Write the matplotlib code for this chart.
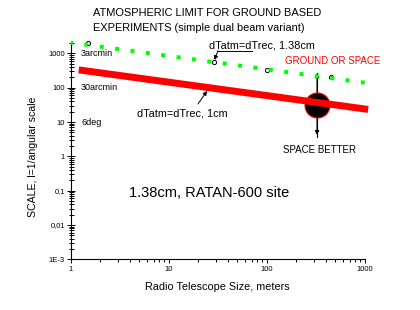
import matplotlib
matplotlib.use('Agg')
import matplotlib.pyplot as plt
from matplotlib.lines import Line2D
from matplotlib.ticker import FixedLocator, LogLocator, NullFormatter, FixedFormatter

plt.rcParams['font.family'] = ['Liberation Sans', 'DejaVu Sans']

# ---- data ----
size_red = [1.3, 1000]          # dTatm=dTrec, 1cm
scale_red = [320, 24]
size_green = [1, 1000]          # dTatm=dTrec, 1.38cm
scale_green = [2050, 140]
size_obs = [1.48, 28.7, 101, 458]
scale_obs = [2036, 547, 320, 200]
size_ratan = [326]
scale_ratan = [31.8]
ytick_vals = [1e-3, 1e-2, 1e-1, 1, 10, 100, 1000]
ytick_labels = ['1E-3', '0,01', '0,1', '1', '10', '100', '1000']
xtick_vals = [1, 10, 100, 1000]
xtick_labels = ['1', '10', '100', '1000']
angle_vals = [1000, 100, 10]
angle_labels = ['3arcmin', '30arcmin', '6deg']
arrow_top = 267
arrow_bottom = 4.17
line_bottom = 3.65

W, H = 420, 310
def px(x, y):
    return (x / W, 1 - y / H)

fig = plt.figure(figsize=(4.2, 3.1), dpi=100)
ax = fig.add_axes([71 / W, 1 - 259.3 / H, 293.7 / W, 217 / H])
ax.set_xscale('log')
ax.set_yscale('log')
ax.set_xlim(1, 1000)
ax.set_ylim(1e-3, 2100)

for s in ['top', 'right']:
    ax.spines[s].set_visible(False)
for s in ['left', 'bottom']:
    ax.spines[s].set_linewidth(0.8)

ax.yaxis.set_major_locator(FixedLocator(ytick_vals))
ax.yaxis.set_major_formatter(FixedFormatter(ytick_labels))
ax.yaxis.set_minor_locator(LogLocator(base=10, subs=range(2, 10), numticks=20))
ax.yaxis.set_minor_formatter(NullFormatter())
ax.xaxis.set_major_locator(FixedLocator(xtick_vals))
ax.xaxis.set_major_formatter(FixedFormatter(xtick_labels))
ax.xaxis.set_minor_locator(LogLocator(base=10, subs=range(2, 10), numticks=20))
ax.xaxis.set_minor_formatter(NullFormatter())

ax.tick_params(axis='y', which='major', direction='inout', length=5.6, width=0.7,
               labelsize=5.5, pad=1.5)
ax.tick_params(axis='y', which='minor', direction='inout', length=3.6, width=0.7)
ax.tick_params(axis='x', which='major', direction='out', length=3, width=0.7,
               labelsize=5.5, pad=2)
ax.tick_params(axis='x', which='minor', direction='out', length=2.2, width=0.7)

# RATAN-600 marker and vertical arrow
ax.plot([size_ratan[0], size_ratan[0]], [arrow_top, line_bottom], color='black', lw=0.8, zorder=2)
ax.annotate('', xy=(size_ratan[0], arrow_top), xytext=(size_ratan[0], scale_ratan[0]),
            arrowprops=dict(arrowstyle='-|>', color='black', lw=0.8, mutation_scale=6,
                            shrinkA=0, shrinkB=0), zorder=2)
ax.annotate('', xy=(size_ratan[0], arrow_bottom), xytext=(size_ratan[0], scale_ratan[0]),
            arrowprops=dict(arrowstyle='-|>', color='black', lw=0.8, mutation_scale=6,
                            shrinkA=0, shrinkB=0), zorder=2)
ax.plot(size_ratan, scale_ratan, 'o', ms=18, mfc='black', mec='red', mew=0.8,
        zorder=3, clip_on=False)

# red line
ax.plot(size_red, scale_red, color='#ff0000', lw=5, solid_capstyle='projecting',
        zorder=4, clip_on=False)

# hollow markers
ax.plot(size_obs, scale_obs, 'o', ms=3, mfc='white', mec='black', mew=0.7,
        zorder=4, clip_on=False)

# green dotted line
ax.plot(size_green, scale_green, color='#00ff00', lw=2.9, linestyle=(0.5, (1, 2.85)),
        dash_capstyle='butt', zorder=5, clip_on=False)

# angular labels
for v, lab in zip(angle_vals, angle_labels):
    ax.annotate(lab, xy=(1, v), xytext=(7.2, 0), textcoords='offset points',
                fontsize=6.5, va='center', ha='left')

# texts
fig.text(*px(93, 13.5), 'ATMOSPHERIC LIMIT FOR GROUND BASED', fontsize=7.9,
         ha='left', va='center')
fig.text(*px(93, 28), 'EXPERIMENTS (simple dual beam variant)', fontsize=7.9,
         ha='left', va='center')
fig.text(*px(209, 46), 'dTatm=dTrec, 1.38cm', fontsize=7.8, ha='left', va='center')
fig.text(*px(285, 61), 'GROUND OR SPACE', fontsize=7, color='#ff0000', ha='left', va='center')
fig.text(*px(136.7, 113), 'dTatm=dTrec, 1cm', fontsize=7.8, ha='left', va='center')
fig.text(*px(283, 150), 'SPACE BETTER', fontsize=7, ha='left', va='center')
fig.text(*px(129, 193), '1.38cm, RATAN-600 site', fontsize=10.5, ha='left', va='center')
fig.text(*px(217, 287), 'Radio Telescope Size, meters', fontsize=7.8, ha='center', va='center')
fig.text(*px(33, 157), 'SCALE, l=1/angular scale', fontsize=7.6, ha='center', va='center',
         rotation=90)

# leader lines
fig.add_artist(Line2D([218 / W, 252 / W], [1 - 50.5 / H, 1 - 50.5 / H],
                      transform=fig.transFigure, color='black', lw=0.7))
ax.annotate('', xy=px(214.5, 60), xytext=px(218, 50.5), xycoords='figure fraction',
            textcoords='figure fraction',
            arrowprops=dict(arrowstyle='-|>', color='black', lw=0.7, mutation_scale=6,
                            shrinkA=0, shrinkB=0))
ax.annotate('', xy=px(207, 91), xytext=px(198, 104), xycoords='figure fraction',
            textcoords='figure fraction',
            arrowprops=dict(arrowstyle='-|>', color='black', lw=0.7, mutation_scale=6,
                            shrinkA=0, shrinkB=0))

fig.savefig('out.png', dpi=100)
